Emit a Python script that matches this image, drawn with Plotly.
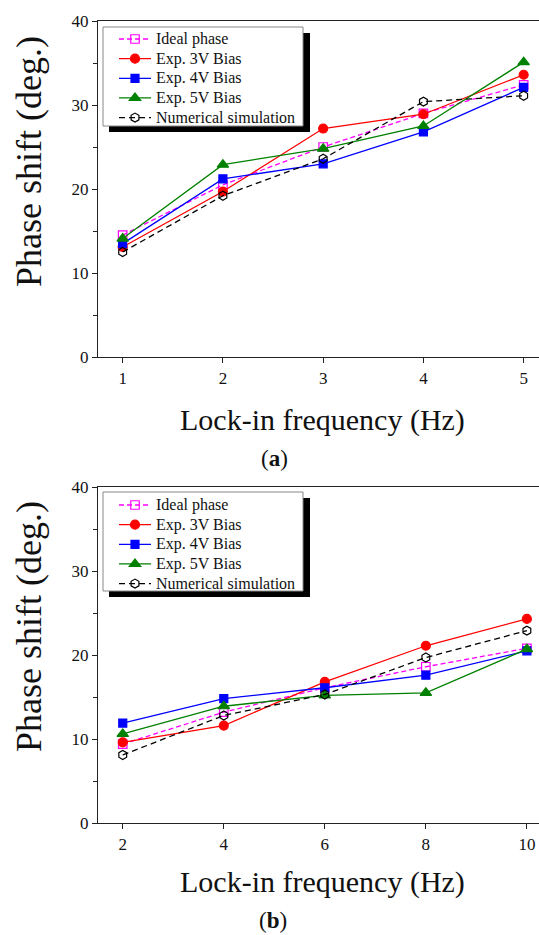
import plotly.graph_objects as go

# ---------------- data ----------------
freq_a = [1, 2, 3, 4, 5]
ideal_a = [14.5, 20.5, 25.0, 29.0, 32.4]
v3_a = [13.1, 19.7, 27.2, 28.9, 33.6]
v4_a = [13.5, 21.2, 23.0, 26.8, 32.1]
v5_a = [14.1, 22.9, 24.8, 27.5, 35.1]
sim_a = [12.5, 19.2, 23.6, 30.4, 31.1]

freq_b = [2, 4, 6, 8, 10]
ideal_b = [9.4, 13.2, 16.1, 18.6, 20.8]
v3_b = [9.6, 11.6, 16.8, 21.1, 24.3]
v4_b = [11.9, 14.8, 16.1, 17.6, 20.5]
v5_b = [10.6, 13.9, 15.2, 15.5, 20.7]
sim_b = [8.1, 12.8, 15.3, 19.7, 22.9]

names = ["Ideal phase", "Exp. 3V Bias", "Exp. 4V Bias", "Exp. 5V Bias", "Numerical simulation"]
y_ticks = [0, 10, 20, 30, 40]
y_minor = [5, 15, 25, 35]
FONT = "Liberation Serif"

styles = [
    dict(color="#FF00FF", dash="5px,3px", symbol="square-open", size=8.5),
    dict(color="#FF0000", dash="solid", symbol="circle", size=9),
    dict(color="#0000FF", dash="solid", symbol="square", size=8),
    dict(color="#008000", dash="solid", symbol="triangle-up", size=10),
    dict(color="#000000", dash="6px,4px", symbol="hexagon-open", size=9),
]

fig = go.Figure()

def add_panel(xs, series, xa, ya, legend):
    for name, ys, st in zip(names, series, styles):
        fig.add_trace(go.Scatter(
            x=xs, y=ys, name='<span style="font-size:16px">' + name + '</span>',
            mode="lines+markers",
            xaxis=xa, yaxis=ya, legend=legend,
            line=dict(color=st["color"], width=1.3, dash=st["dash"]),
            marker=dict(symbol=st["symbol"], size=st["size"], color=st["color"],
                        line=dict(color=st["color"], width=1.2)),
        ))

add_panel(freq_a, [ideal_a, v3_a, v4_a, v5_a, sim_a], "x", "y", "legend")
add_panel(freq_b, [ideal_b, v3_b, v4_b, v5_b, sim_b], "x2", "y2", "legend2")

W, H = 539, 935
ML, MR, MT, MB = 98, 0, 21, 112
PW, PH = W - ML - MR, H - MT - MB

def px(x):
    return (x - ML) / PW

def py(y):
    return (H - MB - y) / PH

ax_common = dict(
    showgrid=False, zeroline=False, showline=True, linecolor="#222", linewidth=1.2,
    ticks="outside", ticklen=5, tickwidth=1, tickcolor="#222",
    tickfont=dict(family=FONT, size=17, color="#111"),
)
minor = dict(tickvals=y_minor, ticks="outside", ticklen=4, tickcolor="#222")

legend_common = dict(xanchor="left", yanchor="top",
                     bgcolor="rgba(0,0,0,0)", borderwidth=0,
                     font=dict(family=FONT, size=12.8, color="#111"),
                     itemwidth=32, tracegroupgap=0)

fig.update_layout(
    width=W, height=H,
    margin=dict(l=ML, r=MR, t=MT, b=MB),
    paper_bgcolor="white", plot_bgcolor="white",
    font=dict(family=FONT, color="#111"),
    xaxis=dict(ax_common, domain=[0, 1], anchor="y", range=[0.754, 5.153],
               tickvals=freq_a, mirror=True),
    yaxis=dict(ax_common, domain=[py(357), 1], anchor="x", range=[0, 40],
               tickvals=y_ticks, minor=minor),
    xaxis2=dict(ax_common, domain=[0, 1], anchor="y2", range=[1.51, 10.24],
                tickvals=freq_b, mirror=True),
    yaxis2=dict(ax_common, domain=[0, py(487)], anchor="x2", range=[0, 40],
                tickvals=y_ticks, minor=minor),
    legend=dict(legend_common, x=px(114), y=py(24.2)),
    legend2=dict(legend_common, x=px(114), y=py(490.2)),
    showlegend=True,
)

# legend frames with drop shadows
for top in (27, 492):
    fig.add_shape(type="rect", xref="paper", yref="paper",
                  x0=px(109), x1=px(310), y0=py(top + 105), y1=py(top + 6),
                  fillcolor="black", line=dict(width=0), layer="above")
    fig.add_shape(type="rect", xref="paper", yref="paper",
                  x0=px(103), x1=px(303), y0=py(top + 99), y1=py(top),
                  fillcolor="white", line=dict(width=1, color="#888"), layer="above")

# axis titles and panel labels
ann = []
for ytitle_c, xt_y in ((162, 420), (627, 882)):
    ann.append(dict(text="Phase shift (deg.)", x=px(29), y=py(ytitle_c), xref="paper", yref="paper",
                    textangle=-90, showarrow=False, xanchor="center", yanchor="middle",
                    font=dict(family=FONT, size=36, color="#111")))
    ann.append(dict(text="Lock-in frequency (Hz)", x=px(322), y=py(xt_y), xref="paper", yref="paper",
                    showarrow=False, xanchor="center", yanchor="middle",
                    font=dict(family=FONT, size=30, color="#111")))
ann.append(dict(text="(<b>a</b>)", x=px(274), y=py(458), xref="paper", yref="paper",
                showarrow=False, xanchor="center", yanchor="middle",
                font=dict(family=FONT, size=23, color="#111")))
ann.append(dict(text="(<b>b</b>)", x=px(273), y=py(935), xref="paper", yref="paper",
                showarrow=False, xanchor="center", yanchor="bottom",
                font=dict(family=FONT, size=23, color="#111")))
fig.update_layout(annotations=ann)

fig.write_html("out.html")
